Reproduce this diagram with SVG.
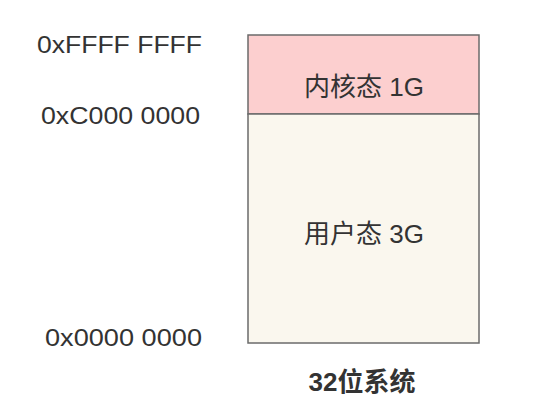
<svg xmlns="http://www.w3.org/2000/svg" width="540" height="408" viewBox="0 0 540 408">
<style>
.addr{font-family:"Liberation Sans","Noto Sans",Arial,sans-serif;font-size:24px;fill:#333;}
.lbl{font-family:"Liberation Sans","Noto Sans CJK SC",sans-serif;font-size:26px;fill:#333;text-anchor:middle;}
.seg{stroke:#6b6b6b;stroke-width:1.5;}
</style>
<rect width="540" height="408" fill="#ffffff"/>
<g id="addresses">
<text class="addr" x="37" y="53" textLength="165" lengthAdjust="spacingAndGlyphs">0xFFFF FFFF</text>
<text class="addr" x="41" y="124" textLength="159" lengthAdjust="spacingAndGlyphs">0xC000 0000</text>
<text class="addr" x="45" y="346" textLength="157" lengthAdjust="spacingAndGlyphs">0x0000 0000</text>
</g>
<g id="kernel">
<rect class="seg" x="248" y="35" width="231" height="79" fill="#fccfcf"/>
<text class="lbl" x="364" y="96">内核态 1G</text>
</g>
<g id="user">
<rect class="seg" x="248" y="114" width="231" height="229" fill="#faf7ee"/>
<text class="lbl" x="364" y="243">用户态 3G</text>
</g>
<g id="connectors"></g>
<text x="362" y="391" style="font-family:'Liberation Sans','Noto Sans CJK SC',sans-serif;font-size:26px;font-weight:bold;fill:#333;text-anchor:middle">32位系统</text>
</svg>
